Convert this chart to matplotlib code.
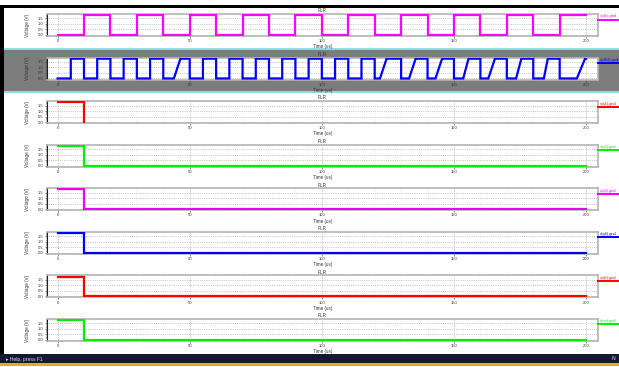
import matplotlib
matplotlib.use("Agg")
import matplotlib.pyplot as plt
from matplotlib.patches import Rectangle
from matplotlib.ticker import MultipleLocator

plt.rcParams['font.family'] = ['Liberation Sans', 'DejaVu Sans']

W, H = 619, 367
V_HIGH = 1.8

# clock 1 (magenta): low 0-10, then high/low every 10 us
clk1_rise = [10, 30, 50, 70, 90, 110, 130, 150, 170, 190]
clk1_fall = [20, 40, 60, 80, 100, 120, 140, 160, 180]
clk1_end = 200

# clock 2 (blue): some rising edges are slow (start != end)
clk2_rise_start = [5, 15, 25, 35, 44, 55, 65, 75, 85, 95, 105, 115, 122,
                   133, 143, 153.5, 163, 173.5, 184, 196.5]
clk2_rise_end = [5, 15, 25, 35, 46.5, 55, 65, 75, 85, 95, 105, 115, 124.5,
                 135.5, 145.5, 155.5, 165.5, 175.5, 185.5, 199.6]
clk2_fall = [10, 20, 30, 40, 50, 60, 70, 80, 90, 100, 110, 120, 130,
             140, 150, 160, 170, 180, 190]
clk2_end = 200

# outputs that start high and drop at t = 10 us
out_names = ['v(q1),gnd', 'v(q2),gnd', 'v(q3),gnd', 'v(q4),gnd', 'v(q5),gnd', 'v(rst),gnd']
out_colors = ['#ff0000', '#00ee00', '#ee00ee', '#0000ff', '#ff0000', '#00ee00']
out_drop = [10, 10, 10, 10, 10, 10]
out_end = [10, 200, 200, 200, 200, 200]

clk_names = ['v(clk),gnd', 'v(clk2),gnd']
clk_colors = ['#ff00ff', '#0000ff']

x_ticks = [0, 50, 100, 150, 200]
y_ticks = [0.0, 0.5, 1.0, 1.5]


def square_wave(rise_s, rise_e, fall, t_end):
    t, v = [0], [0]
    for i in range(len(rise_s)):
        t += [rise_s[i], rise_e[i]]
        v += [0, V_HIGH]
        if i < len(fall):
            t += [fall[i], fall[i]]
            v += [V_HIGH, 0]
    t.append(t_end)
    v.append(v[-1])
    return t, v


def drop_wave(t_drop, t_end):
    t = [0, t_drop, t_drop]
    v = [V_HIGH, V_HIGH, 0]
    if t_end > t_drop:
        t.append(t_end)
        v.append(0)
    return t, v


fig = plt.figure(figsize=(W / 100, H / 100), dpi=100)
fig.patch.set_facecolor('white')


def add_rect(x, y, w, h, color, z=-5):
    fig.patches.append(Rectangle((x / W, 1 - (y + h) / H), w / W, h / H,
                                 transform=fig.transFigure, facecolor=color,
                                 edgecolor='none', zorder=z))


# window chrome
add_rect(0, 5, W, 2.5, 'black')
add_rect(0, 5, 4, 350, 'black')
add_rect(4, 49, W - 4, 43, '#7c7c7c')
add_rect(4, 48.5, W - 4, 1, '#8fdede')
add_rect(4, 91.5, W - 4, 1.2, '#8fdede')
add_rect(0, 354, W, 9, '#141a2e')
add_rect(0, 363, W, 2.5, '#e8a820')
fig.text(6 / W, 1 - 359 / H, '\u25b8 Help, press F1', color='#d8d8e8', fontsize=3.6,
         va='center', ha='left')
fig.text(612 / W, 1 - 359 / H, 'N', color='#d8d8e8', fontsize=3.6, va='center', ha='left')

waves = []
t, v = square_wave(clk1_rise, clk1_rise, clk1_fall, clk1_end)
waves.append((t, v, clk_colors[0], clk_names[0]))
t, v = square_wave(clk2_rise_start, clk2_rise_end, clk2_fall, clk2_end)
waves.append((t, v, clk_colors[1], clk_names[1]))
for i in range(len(out_names)):
    t, v = drop_wave(out_drop[i], out_end[i])
    waves.append((t, v, out_colors[i], out_names[i]))

ax_left, ax_w, ax_h = 47, 551, 22
for k, (t, v, color, name) in enumerate(waves):
    top = 14 + 43.57 * k
    ax = fig.add_axes([ax_left / W, 1 - (top + ax_h) / H, ax_w / W, ax_h / H])
    ax.set_facecolor('white')
    ax.plot(t, v, color=color, lw=1.6, solid_joinstyle='miter', zorder=3)
    ax.set_xlim(-4, 204.5)
    ax.set_ylim(-0.1, 1.9)
    ax.set_xticks(x_ticks)
    ax.set_yticks(y_ticks)
    ax.set_xticklabels([str(x) for x in x_ticks])
    ax.set_yticklabels(['%.1f' % y for y in y_ticks])
    ax.xaxis.set_minor_locator(MultipleLocator(10))
    ax.yaxis.set_minor_locator(MultipleLocator(0.1))
    ax.tick_params(axis='both', which='major', labelsize=3, length=1.5, width=0.4, pad=0.8,
                   colors='#333333')
    ax.tick_params(axis='both', which='minor', length=1, width=0.3, colors='#333333')
    ax.grid(True, which='major', axis='x', ls=':', lw=0.5, color='#999999')
    ax.grid(True, which='major', axis='y', ls=':', lw=0.5, color='#999999')
    ax.grid(True, which='minor', axis='x', ls=':', lw=0.3, color='#c8c8c8')
    for s in ['top', 'right', 'bottom']:
        ax.spines[s].set_color('#b4b4b4')
        ax.spines[s].set_linewidth(1.2)
    ax.spines['left'].set_color('#222222')
    ax.spines['left'].set_linewidth(0.8)
    ax.set_title('PLR', fontsize=3.3, pad=1.2, color='#333333')
    ax.set_xlabel('Time (us)', fontsize=3.3, labelpad=0.8, color='#333333')
    ax.set_ylabel('Voltage (V)', fontsize=3.3, labelpad=6, color='#333333')

    # trace legend at the right edge
    y_txt = 1 - (top + 2.5) / H
    y_line = 1 - (top + 5.5) / H
    fig.text(600 / W, y_txt, name, color=color, fontsize=2.8, va='center', ha='left')
    fig.lines.append(plt.Line2D([598 / W, 1.0], [y_line, y_line], transform=fig.transFigure,
                                color=color, lw=1.4))

fig.savefig('out.png', dpi=100)
